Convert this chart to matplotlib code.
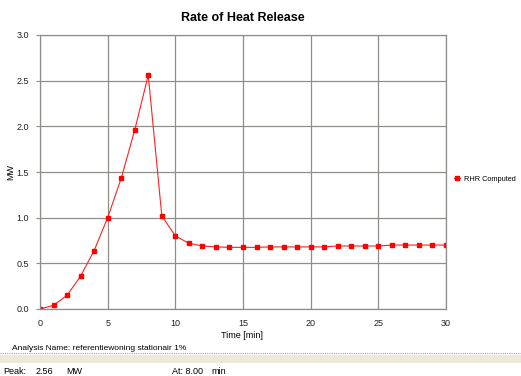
#!/usr/bin/env python3
"""Rate of heat release chart (RHR computed vs time)."""
import matplotlib
matplotlib.use("Agg")
import matplotlib.pyplot as plt
from matplotlib.lines import Line2D
from matplotlib.patches import Rectangle

# data
time_min = list(range(0, 31))
rhr_mw = [0.00, 0.04, 0.15, 0.36, 0.64, 1.00, 1.43, 1.96, 2.56, 1.02,
          0.80, 0.72, 0.69, 0.68, 0.675, 0.675, 0.675, 0.68, 0.68, 0.68,
          0.68, 0.68, 0.69, 0.69, 0.69, 0.69, 0.70, 0.70, 0.70, 0.70, 0.70]
x_ticks = [0, 5, 10, 15, 20, 25, 30]
y_ticks = [0.0, 0.5, 1.0, 1.5, 2.0, 2.5, 3.0]

W, H = 521, 376
plt.rcParams["font.family"] = ["Liberation Sans", "DejaVu Sans"]


def fx(px):
    return px / W


def fy(py):
    return 1 - py / H


fig = plt.figure(figsize=(W / 100, H / 100), dpi=100)
ax_w = (446 - 40) / W
ax = fig.add_axes([fx(40), fy(309), ax_w, (309 - 35) / H])

grid_col = "#8f8f8a"
ax.plot(time_min, rhr_mw, color="#ff2020", lw=0.8, marker="s", ms=3,
        mfc="red", mec="red", label="RHR Computed")
ax.set_xlim(0, 30)
ax.set_ylim(0, 3.0)
ax.set_xticks(x_ticks)
ax.set_yticks(y_ticks)
ax.set_yticklabels([f"{v:.1f}" for v in y_ticks])
ax.grid(True, color=grid_col, lw=0.9)
ax.set_axisbelow(True)
for s in ax.spines.values():
    s.set_color(grid_col)
    s.set_linewidth(0.9)
ax.tick_params(axis="both", labelsize=6.5, colors=grid_col, labelcolor="#202020",
               length=3, width=0.8, pad=5)
ax.tick_params(axis="x", length=0, pad=7)

ax.set_xlabel("Time [min]", fontsize=6.5)
ax.xaxis.set_label_coords(fx(242 - 40) / ax_w, -0.08)
ax.set_ylabel("MW", fontsize=6.5)
ax.yaxis.set_label_coords(-0.06, 0.5)

fig.text(fx(243), fy(18), "Rate of Heat Release", ha="center", va="center",
         fontsize=9, fontweight="bold")

ax.legend(loc="center left", bbox_to_anchor=(fx(453), fy(179)),
          bbox_transform=fig.transFigure, frameon=False, fontsize=5.3,
          handlelength=0.8, handletextpad=0.5, borderpad=0.1, borderaxespad=0.1)

fig.text(fx(12), fy(348), "Analysis Name: referentiewoning stationair 1%",
         ha="left", va="center", fontsize=6)
fig.add_artist(Line2D([0, 1], [fy(353), fy(353)], transform=fig.transFigure,
                      color="#a0a0a0", lw=0.8, ls=(0, (1, 1))))
fig.add_artist(Rectangle((0, fy(363)), 1, (363 - 355) / H, transform=fig.transFigure,
                         facecolor="#ece9d8", edgecolor="none"))
fig.text(fx(3), fy(371), "Peak:", ha="left", va="center", fontsize=6.5)
fig.text(fx(36), fy(371), "2.56", ha="left", va="center", fontsize=6.5)
fig.text(fx(66), fy(371), "MW", ha="left", va="center", fontsize=6.5)
fig.text(fx(172), fy(371), "At: 8.00", ha="left", va="center", fontsize=6.5)
fig.text(fx(211), fy(371), "min", ha="left", va="center", fontsize=6.5)

fig.savefig("out.png", dpi=100)
